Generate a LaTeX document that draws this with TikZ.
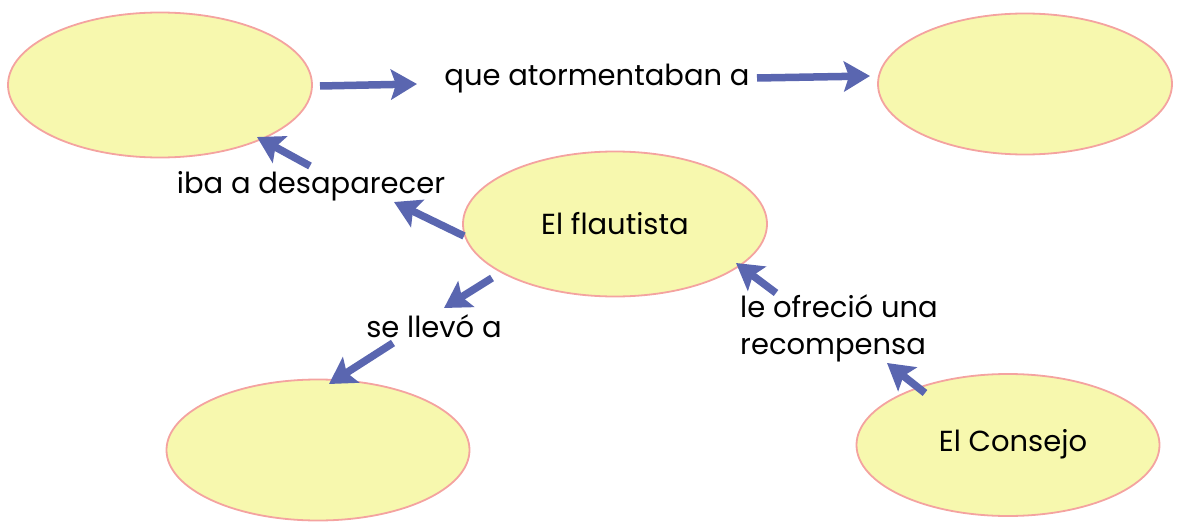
\documentclass[tikz,border=0pt]{standalone}
\usepackage{fontspec}
\setmainfont{Poppins}
\usetikzlibrary{arrows.meta,shapes.geometric}
\definecolor{efill}{HTML}{F7F8AE}
\definecolor{eline}{HTML}{F4A3A0}
\definecolor{arr}{HTML}{5A66B0}
\tikzset{
  concept/.style={ellipse,draw=eline,fill=efill,line width=1.8pt,inner sep=0pt},
  lbl/.style={font=\fontsize{29}{37}\selectfont,text=black,inner sep=0pt},
  link/.style={draw=arr,line width=7.5pt,-{Stealth[length=26pt,width=30pt,inset=5pt]}},
}
\begin{document}
\begin{tikzpicture}[x=1pt,y=-1pt]
\useasboundingbox (0,0) rectangle (1181,527);
\node[concept,minimum width=304pt,minimum height=145pt] (tl) at (160,85) {};
\node[concept,minimum width=294pt,minimum height=141pt] (tr) at (1025,84) {};
\node[concept,minimum width=304pt,minimum height=145pt] (fl) at (615,224) {};
\node[lbl] at (615,224) {El flautista};
\node[concept,minimum width=303pt,minimum height=141pt] (bl) at (318,450) {};
\node[concept,minimum width=303pt,minimum height=142pt] (co) at (1008,445) {};
\node[lbl] at (1013,444) {El Consejo};

\node[lbl] (l1) at (597,79) {que atormentaban a};
\node[lbl] (l2) at (311,186) {iba a desaparecer};
\node[lbl] (l3) at (434,326) {se llevó a};
\node[lbl,align=left,anchor=west] (l4) at (740,328) {le ofreció una\\recompensa};

\coordinate (a1s) at (320,86); \coordinate (a1e) at (417,84);
\coordinate (a2s) at (757,78); \coordinate (a2e) at (870,76);
\coordinate (a3s) at (464,236); \coordinate (a3e) at (394,202);
\coordinate (a4s) at (310,166); \coordinate (a4e) at (257,137);
\coordinate (a5s) at (492,278); \coordinate (a5e) at (444,308);
\coordinate (a6s) at (393,343); \coordinate (a6e) at (329,384);
\coordinate (a7s) at (925,393); \coordinate (a7e) at (887,363);
\coordinate (a8s) at (776,293); \coordinate (a8e) at (736,263);
\draw[link] (a1s) -- (a1e);
\draw[link] (a2s) -- (a2e);
\draw[link] (a3s) -- (a3e);
\draw[link] (a4s) -- (a4e);
\draw[link] (a5s) -- (a5e);
\draw[link] (a6s) -- (a6e);
\draw[link] (a7s) -- (a7e);
\draw[link] (a8s) -- (a8e);
\end{tikzpicture}
\end{document}
